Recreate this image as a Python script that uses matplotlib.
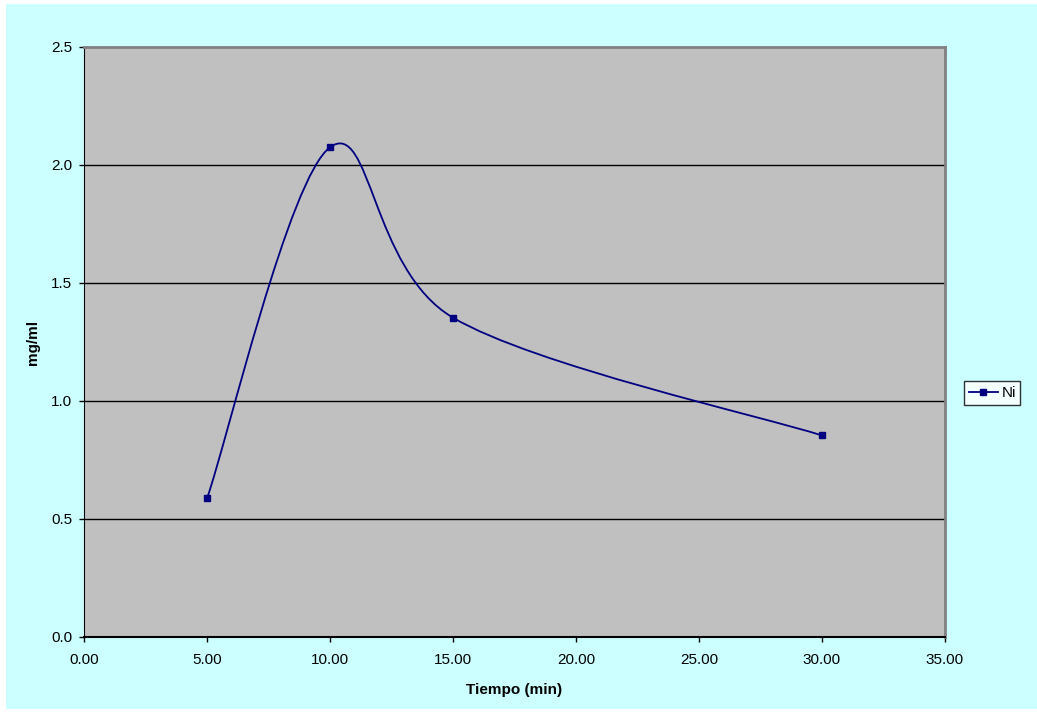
import numpy as np
import matplotlib.pyplot as plt
from matplotlib.path import Path
from matplotlib.patches import PathPatch, Rectangle
from matplotlib.lines import Line2D

plt.rcParams['font.family'] = ['Liberation Sans', 'DejaVu Sans']

# Nickel concentration over time
tiempo = [5.0, 10.0, 15.0, 30.0]
ni_mg_ml = [0.587, 2.075, 1.353, 0.854]
serie = 'Ni'

xticks = [0, 5, 10, 15, 20, 25, 30, 35]
yticks = [0.0, 0.5, 1.0, 1.5, 2.0, 2.5]

navy = '#000080'


def smooth_path(xs, ys):
    """Spreadsheet-style smoothed line: cubic Bezier segments with
    Catmull-Rom control points (tension 1/6)."""
    p = np.column_stack([xs, ys])
    n = len(p)
    verts = [p[0]]
    codes = [Path.MOVETO]
    for i in range(n - 1):
        prev = p[max(i - 1, 0)]
        nxt = p[min(i + 2, n - 1)]
        c1 = p[i] + (p[i + 1] - prev) / 6.0
        c2 = p[i + 1] - (nxt - p[i]) / 6.0
        verts += [c1, c2, p[i + 1]]
        codes += [Path.CURVE4] * 3
    return Path(verts, codes)


fig = plt.figure(figsize=(10.37, 7.12), dpi=100, facecolor='white')
W, H = 1037, 712
fig.patches.append(Rectangle((6 / W, 3 / H), 1 - 6 / W, 1 - 7 / H,
                             transform=fig.transFigure, facecolor='#CCFFFF',
                             edgecolor='none', zorder=-10))

left, right, top, bottom = 84, 945, 47, 637
ax = fig.add_axes([left / W, 1 - bottom / H, (right - left) / W, (bottom - top) / H])
ax.set_facecolor('#C0C0C0')

ax.set_xlim(0, 35)
ax.set_ylim(0, 2.5)
ax.set_xticks(xticks)
ax.set_yticks(yticks)
ax.set_xticklabels([f'{v:.2f}' for v in xticks])
ax.set_yticklabels([f'{v:.1f}' for v in yticks])
ax.tick_params(axis='both', direction='out', length=3.6, width=1, color='black',
               labelsize=11)
ax.tick_params(axis='y', pad=5)
ax.tick_params(axis='x', pad=8)

for y in yticks[1:-1]:
    ax.axhline(y, color='black', lw=1, zorder=1)

ax.spines['left'].set_color('black')
ax.spines['bottom'].set_color('black')
ax.spines['top'].set_color('#808080')
ax.spines['right'].set_color('#808080')
ax.spines['top'].set_linewidth(2)
ax.spines['right'].set_linewidth(2)
ax.spines['bottom'].set_linewidth(1.5)

ax.add_patch(PathPatch(smooth_path(tiempo, ni_mg_ml), facecolor='none',
                       edgecolor=navy, lw=1.3, zorder=3))
ax.plot(tiempo, ni_mg_ml, linestyle='none', marker='s', markersize=4.5,
        color=navy, zorder=4)

fig.text(514 / W, 1 - 690 / H, 'Tiempo (min)', fontsize=11, fontweight='bold',
         ha='center', va='center')
fig.text(33 / W, 1 - 342 / H, 'mg/ml', fontsize=11, fontweight='bold',
         ha='center', va='center', rotation=90)

handle = Line2D([], [], color=navy, lw=1.3, marker='s', markersize=4.5)
leg = fig.legend([handle], [serie], loc='center left',
                 bbox_to_anchor=(964 / W, 1 - 393 / H), fontsize=11,
                 frameon=True, fancybox=False, handlelength=1.9,
                 handletextpad=0.25, borderpad=0.3, borderaxespad=0)
leg.get_frame().set_edgecolor('black')
leg.get_frame().set_linewidth(1)
leg.get_frame().set_facecolor('white')

fig.savefig('out.png', dpi=100, facecolor=fig.get_facecolor())
